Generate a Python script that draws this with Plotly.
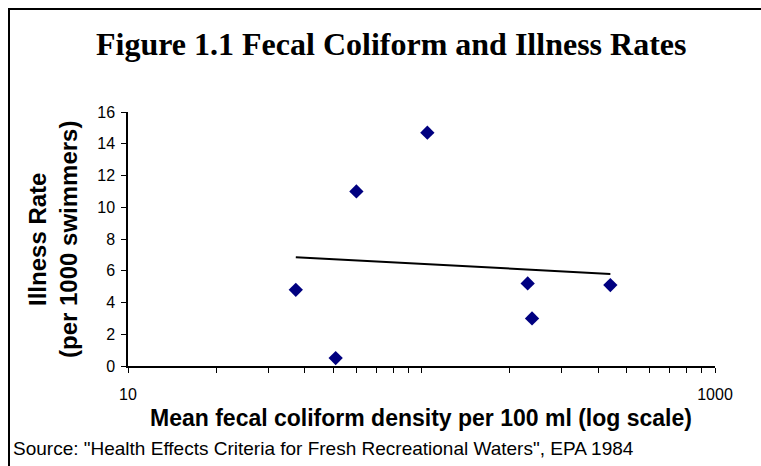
import plotly.graph_objects as go

# data
coliform = [37.3, 51, 60, 104.7, 230, 238, 440]
illness = [4.8, 0.5, 11.0, 14.7, 5.2, 3.0, 5.1]

# logarithmic trendline endpoints (as drawn)
trend_x = [37.3, 440]
trend_y = [6.85, 5.8]

x_ticks = [10, 20, 30, 40, 50, 60, 70, 80, 90, 100,
           200, 300, 400, 500, 600, 700, 800, 900, 1000]
x_labels = ["10"] + [""] * 17 + ["1000"]

SANS = "Liberation Sans, Arial, sans-serif"
SERIF = "Liberation Serif, Times New Roman, serif"

# plot area in pixels
L, R, T, B = 128, 715, 112, 366
W, H = R - L, B - T


def px_x(p):
    return (p - L) / W


def px_y(p):
    return (B - p) / H


fig = go.Figure()
fig.add_trace(go.Scatter(x=trend_x, y=trend_y, mode="lines",
                         line=dict(color="black", width=2), hoverinfo="skip"))
fig.add_trace(go.Scatter(x=coliform, y=illness, mode="markers",
                         marker=dict(symbol="diamond", size=11, color="#000080")))

fig.update_layout(
    width=761, height=466,
    margin=dict(l=L, r=761 - R, t=T, b=466 - B),
    paper_bgcolor="white", plot_bgcolor="white",
    showlegend=False,
    font=dict(family=SANS, size=16, color="black"),
)

fig.update_xaxes(type="log", range=[1, 3], tickvals=x_ticks, ticktext=x_labels,
                 ticks="outside", ticklen=5, tickcolor="black", ticklabelstandoff=8,
                 showline=True, linecolor="black", linewidth=1.5,
                 showgrid=False, zeroline=False, tickfont=dict(size=16))
fig.update_yaxes(range=[0, 16], dtick=2, ticks="outside", ticklen=5, tickcolor="black",
                 ticklabelstandoff=3,
                 showline=True, linecolor="black", linewidth=1.5,
                 showgrid=False, zeroline=False, tickfont=dict(size=16))

fig.add_annotation(text="<b>Figure 1.1 Fecal Coliform and Illness Rates</b>",
                   xref="paper", yref="paper", x=px_x(391), y=px_y(44),
                   showarrow=False, font=dict(family=SERIF, size=32, color="black"),
                   xanchor="center", yanchor="middle")
fig.add_annotation(text="<b>Mean fecal coliform density per 100 ml (log scale)</b>",
                   xref="paper", yref="paper", x=px_x(421), y=px_y(418),
                   showarrow=False, font=dict(size=23), xanchor="center", yanchor="middle")
fig.add_annotation(text="<b>Illness Rate<br>(per 1000 swimmers)</b>",
                   xref="paper", yref="paper", x=px_x(53), y=px_y(240),
                   textangle=-90, showarrow=False, font=dict(size=24),
                   xanchor="center", yanchor="middle")
fig.add_annotation(text='Source: "Health Effects Criteria for Fresh Recreational Waters", EPA 1984',
                   xref="paper", yref="paper", x=px_x(11), y=px_y(449),
                   showarrow=False, font=dict(size=19), xanchor="left", yanchor="middle")

# outer chart frame (right and bottom edges fall outside the picture)
fig.add_shape(type="rect", xref="paper", yref="paper",
              x0=px_x(9), y0=px_y(480), x1=px_x(780), y1=px_y(9),
              line=dict(color="black", width=2))

fig.write_html("out.html", config={"displayModeBar": False},
               post_script="document.body.style.margin='0';")
